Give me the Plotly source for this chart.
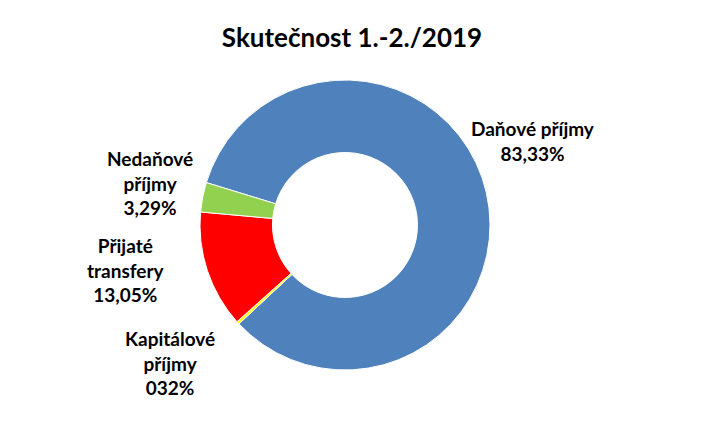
import plotly.graph_objects as go

labels = ["Daňové příjmy", "Kapitálové příjmy", "Přijaté transfery", "Nedaňové příjmy"]
values = [83.33, 0.32, 13.05, 3.29]
value_texts = ["83,33%", "032%", "13,05%", "3,29%"]
label_texts = ["Daňové příjmy", "Kapitálové<br>příjmy", "Přijaté<br>transfery", "Nedaňové<br>příjmy"]
colors = ["#4F81BD", "#FFFF00", "#FF0000", "#92D050"]
title = "Skutečnost 1.-2./2019"

W, H = 707, 430
cx, cy, R = 345, 225, 145

fig = go.Figure(go.Pie(
    labels=labels, values=values, hole=0.5, sort=False,
    direction="clockwise", rotation=287,
    marker=dict(colors=colors, line=dict(color="white", width=1)),
    textinfo="none", hoverinfo="label+percent", showlegend=False,
    domain=dict(x=[(cx - R) / W, (cx + R) / W], y=[(H - cy - R) / H, (H - cy + R) / H]),
))

# label anchor positions (pixels from top-left)
label_pos = [(533, 141), (170, 363), (126, 270), (150, 183)]
font = dict(family="Lato, Open Sans, sans-serif", size=19, color="black")
for lt, vt, (px, py) in zip(label_texts, value_texts, label_pos):
    fig.add_annotation(
        text="<b>" + lt + "<br>" + vt + "</b>",
        x=px / W, y=1 - py / H, xref="paper", yref="paper",
        showarrow=False, align="center", font=font,
        xanchor="center", yanchor="middle",
    )

fig.update_layout(
    width=W, height=H, margin=dict(l=0, r=0, t=0, b=0),
    paper_bgcolor="white", plot_bgcolor="white",
    title=dict(text="<b>" + title + "</b>", x=352 / W, xanchor="center",
               y=1 - 38 / H, yanchor="middle",
               font=dict(family="Lato, Open Sans, sans-serif", size=26, color="black")),
)

fig.write_html("out.html")
